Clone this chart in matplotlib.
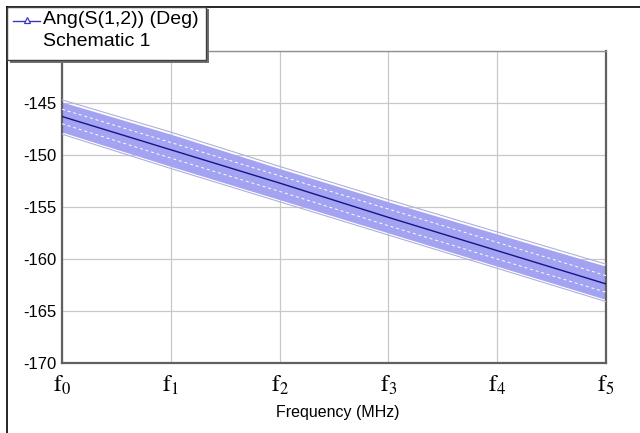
import matplotlib
matplotlib.use("Agg")
import matplotlib.pyplot as plt
from matplotlib.lines import Line2D
from matplotlib.patches import Rectangle

plt.rcParams['font.family'] = ['Liberation Sans', 'DejaVu Sans']
plt.rcParams['mathtext.fontset'] = 'stix'

# datos
freq_labels = [r'$\mathrm{f}_{0}$', r'$\mathrm{f}_{1}$', r'$\mathrm{f}_{2}$',
               r'$\mathrm{f}_{3}$', r'$\mathrm{f}_{4}$', r'$\mathrm{f}_{5}$']
freq_pos = [0, 1, 2, 3, 4, 5]
ang_nominal = [-146.3, -149.5, -152.7, -156.0, -159.2, -162.4]
ang_upper = [-144.9, -148.0, -151.3, -154.5, -157.6, -160.7]
ang_lower = [-147.8, -151.1, -154.3, -157.5, -160.7, -163.9]
ang_inner_hi = [-145.6, -148.8, -152.0, -155.2, -158.4, -161.6]
ang_inner_lo = [-147.0, -150.3, -153.5, -156.8, -160.0, -163.2]
y_ticks = [-170, -165, -160, -155, -150, -145, -140]

W, H = 640, 433
fig = plt.figure(figsize=(6.4, 4.33), dpi=100)
ax = fig.add_axes([0.097, 0.1617, 0.85, 0.7205])

# banda de variacion
ax.fill_between(freq_pos, ang_lower, ang_upper, color='#a3a3f2', lw=0, zorder=2)
ax.plot(freq_pos, [u + 0.2 for u in ang_upper], color='#b0b0d8', lw=0.8, zorder=3)
ax.plot(freq_pos, [l - 0.2 for l in ang_lower], color='#b0b0d8', lw=0.8, zorder=3)
ax.plot(freq_pos, ang_inner_hi, color='white', lw=0.7, ls=(0, (3, 3)), zorder=3)
ax.plot(freq_pos, ang_inner_lo, color='white', lw=0.7, ls=(0, (3, 3)), zorder=3)
ax.plot(freq_pos, ang_nominal, color='#14148a', lw=1.0, zorder=4)

ax.set_xlim(0, 5)
ax.set_ylim(-170, -140)
ax.set_xticks(freq_pos)
ax.set_xticklabels(freq_labels, fontsize=17)
ax.set_yticks(y_ticks)
ax.set_yticklabels([str(v) if v != -140 else '' for v in y_ticks], fontsize=12)
ax.tick_params(length=0, pad=4)
ax.tick_params(axis='x', pad=8)
ax.grid(True, color='#c8c8c8', lw=0.9)
ax.set_axisbelow(True)
for s in ['left', 'bottom', 'right']:
    ax.spines[s].set_color('#606060')
    ax.spines[s].set_linewidth(1.6)
ax.spines['top'].set_color('#909090')
ax.spines['top'].set_linewidth(1.0)

# titulo del eje x
fig.text(338 / W, 1 - 413 / H, 'Frequency (MHz)', fontsize=11.5, ha='center', va='center')

# marco exterior
fig.add_artist(Line2D([7 / W, 1], [1 - 7 / H, 1 - 7 / H], color='black', lw=1.2))
fig.add_artist(Line2D([7 / W, 7 / W], [0, 1 - 7 / H], color='black', lw=1.2))

# leyenda manual
fig.add_artist(Rectangle((10 / W, 1 - 63 / H), 199 / W, 54 / H, transform=fig.transFigure,
                         facecolor='#707070', edgecolor='none', zorder=5))
fig.add_artist(Rectangle((7 / W, 1 - 60 / H), 199 / W, 53 / H, transform=fig.transFigure,
                         facecolor='white', edgecolor='#404040', lw=1.0, zorder=6))
fig.add_artist(Line2D([13 / W, 40 / W], [1 - 21 / H, 1 - 21 / H], color='#3a3ac0', lw=1.0,
                      zorder=7))
fig.add_artist(Line2D([26.5 / W], [1 - 20 / H], color='#3a3ac0', marker='^', ms=5,
                      mfc='white', mew=0.9, zorder=8))
fig.text(43 / W, 1 - 20 / H, 'Ang(S(1,2)) (Deg)', fontsize=14, va='center', zorder=7)
fig.text(43 / W, 1 - 41 / H, 'Schematic 1', fontsize=14, va='center', zorder=7)

plt.savefig('out.png', dpi=100)
